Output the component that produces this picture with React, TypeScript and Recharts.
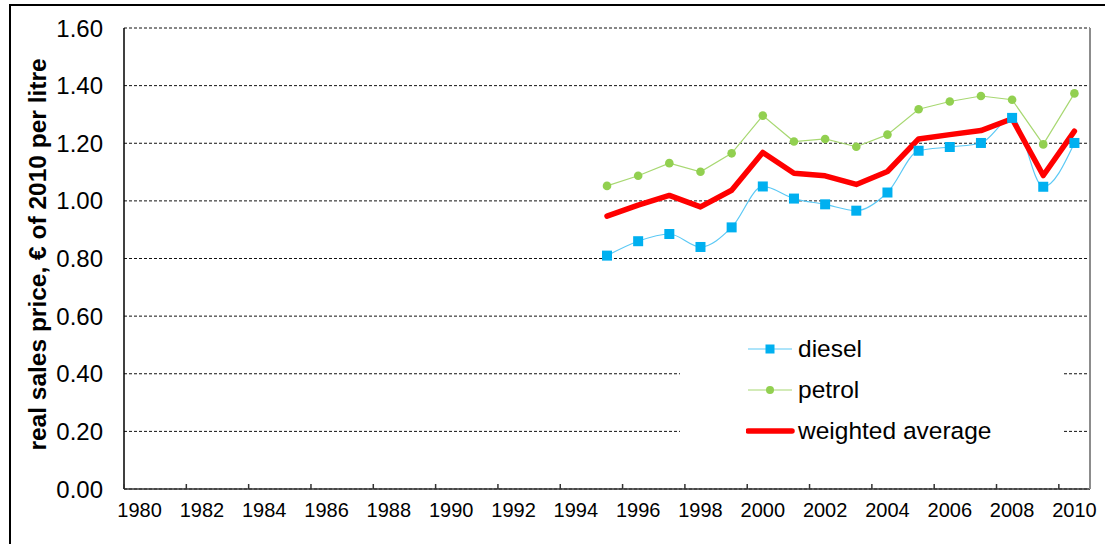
import React from "react";
import {
  LineChart,
  Line,
  XAxis,
  YAxis,
  CartesianGrid,
} from "recharts";

// years on the category axis (1980..2010), values only from 1995
const years = [
  1980, 1981, 1982, 1983, 1984, 1985, 1986, 1987, 1988, 1989, 1990,
  1991, 1992, 1993, 1994, 1995, 1996, 1997, 1998, 1999, 2000, 2001,
  2002, 2003, 2004, 2005, 2006, 2007, 2008, 2009, 2010,
];
const valueYears = [
  1995, 1996, 1997, 1998, 1999, 2000, 2001, 2002,
  2003, 2004, 2005, 2006, 2007, 2008, 2009, 2010,
];
const diesel = [
  0.81, 0.86, 0.885, 0.84, 0.908, 1.05, 1.008, 0.988,
  0.966, 1.029, 1.174, 1.187, 1.201, 1.288, 1.049, 1.201,
];
const petrol = [
  1.052, 1.087, 1.131, 1.101, 1.165, 1.296, 1.206, 1.215,
  1.188, 1.23, 1.318, 1.345, 1.364, 1.351, 1.196, 1.373,
];
const weighted = [
  0.947, 0.985, 1.019, 0.979, 1.037, 1.168, 1.096, 1.087,
  1.057, 1.102, 1.215, 1.23, 1.244, 1.285, 1.088, 1.242,
];
const yTicks = [0, 0.2, 0.4, 0.6, 0.8, 1.0, 1.2, 1.4, 1.6];

const data = years.map((year) => {
  const i = valueYears.indexOf(year);
  return {
    year,
    diesel: i >= 0 ? diesel[i] : null,
    petrol: i >= 0 ? petrol[i] : null,
    weighted: i >= 0 ? weighted[i] : null,
  };
});

const FONT = "'Liberation Sans', Arial, sans-serif";
const CHART_W = 1105;
const CHART_H = 544;
const MARGIN = { top: 28, right: 0, bottom: 0, left: 0 };
const Y_AXIS_W = 124;
const RIGHT_AXIS_W = 15;
const X_AXIS_H = 55;
// excel-style category bands: points sit in the middle of each year
const BAND = (CHART_W - Y_AXIS_W - RIGHT_AXIS_W) / years.length;

const DIESEL_COLOR = "#00B0F0";
const PETROL_COLOR = "#92D050";
const AVG_COLOR = "#FF0000";

function XTick(props: any) {
  const { x, y, payload } = props;
  const left = x - BAND / 2;
  return (
    <g>
      <line x1={left} y1={y} x2={left} y2={y - 5} stroke="#333" strokeWidth={1.5} />
      <text x={x} y={y + 28} textAnchor="middle" fontSize={20} fill="#000" fontFamily={FONT}>
        {payload.value}
      </text>
    </g>
  );
}

function SquareDot(props: any) {
  const { cx, cy, value } = props;
  if (value == null || cx == null || cy == null) return null;
  return <rect x={cx - 5} y={cy - 5} width={10} height={10} fill={DIESEL_COLOR} />;
}

function CircleDot(props: any) {
  const { cx, cy, value } = props;
  if (value == null || cx == null || cy == null) return null;
  return <circle cx={cx} cy={cy} r={4.3} fill={PETROL_COLOR} />;
}

function YLabel(props: any) {
  const { viewBox } = props;
  const cx = 37;
  const cy = viewBox.y + viewBox.height / 2 - 4;
  return (
    <text
      x={cx}
      y={cy}
      transform={`rotate(-90, ${cx}, ${cy})`}
      textAnchor="middle"
      dominantBaseline="central"
      fontSize={24.5}
      fontWeight="bold"
      fontFamily={FONT}
      fill="#000"
    >
      real sales price, € of 2010 per litre
    </text>
  );
}

const legendItems = [
  { key: "diesel", label: "diesel" },
  { key: "petrol", label: "petrol" },
  { key: "weighted", label: "weighted average" },
];

function LegendBox() {
  return (
    <div
      style={{
        position: "absolute",
        left: 680,
        top: 326,
        width: 382,
        height: 124,
        background: "#fff",
        paddingTop: 2,
        boxSizing: "border-box",
      }}
    >
      {legendItems.map((item) => (
        <div key={item.key} style={{ display: "flex", alignItems: "center", height: 41 }}>
          <svg width={50} height={20} style={{ marginLeft: 66, marginRight: 2 }}>
            {item.key === "diesel" && (
              <>
                <line x1={2} y1={10} x2={46} y2={10} stroke="#5CC9F5" strokeWidth={1.2} />
                <rect x={19.5} y={5.5} width={9} height={9} fill={DIESEL_COLOR} />
              </>
            )}
            {item.key === "petrol" && (
              <>
                <line x1={2} y1={10} x2={46} y2={10} stroke="#A8D872" strokeWidth={1.2} />
                <circle cx={24} cy={10} r={4} fill={PETROL_COLOR} />
              </>
            )}
            {item.key === "weighted" && (
              <line x1={2} y1={10} x2={46} y2={10} stroke={AVG_COLOR} strokeWidth={5.5} strokeLinecap="round" />
            )}
          </svg>
          <span style={{ fontSize: 24.5, fontFamily: FONT, color: "#000" }}>{item.label}</span>
        </div>
      ))}
    </div>
  );
}

export default function App() {
  return (
    <div
      style={{
        position: "absolute",
        left: 0,
        top: 0,
        width: CHART_W,
        height: CHART_H,
        overflow: "hidden",
        background: "#fff",
        fontFamily: FONT,
      }}
    >
      <div
        style={{
          position: "absolute",
          left: 9,
          top: 4,
          width: 1200,
          height: 700,
          border: "2px solid #000",
        }}
      />
      <div style={{ position: "absolute", left: 0, top: 0 }}>
        <LineChart width={CHART_W} height={CHART_H} data={data} margin={MARGIN}>
          <CartesianGrid
            vertical={false}
            stroke="#111"
            strokeDasharray="3 2"
            strokeWidth={1}
          />
          <XAxis
            dataKey="year"
            type="category"
            interval={1}
            height={X_AXIS_H}
            padding={{ left: BAND / 2, right: BAND / 2 }}
            tickSize={0}
            tickMargin={0}
            tickLine={false}
            axisLine={{ stroke: "#333", strokeWidth: 1.5 }}
            tick={<XTick />}
          />
          <YAxis
            width={Y_AXIS_W}
            domain={[0, 1.6]}
            ticks={yTicks}
            tickFormatter={(v: number) => v.toFixed(2)}
            tickLine={false}
            tickSize={0}
            tickMargin={21}
            axisLine={{ stroke: "#000", strokeWidth: 1.5 }}
            tick={{ fontSize: 24, fill: "#000", fontFamily: FONT }}
            label={{ content: <YLabel /> }}
          />
          <YAxis
            yAxisId="right"
            orientation="right"
            width={RIGHT_AXIS_W}
            domain={[0, 1.6]}
            tick={false}
            tickLine={false}
            axisLine={{ stroke: "#8c8c8c", strokeWidth: 2 }}
          />
          <Line
            type="monotone"
            dataKey="diesel"
            name="diesel"
            stroke="#5CC9F5"
            strokeWidth={1.2}
            dot={<SquareDot />}
            activeDot={false}
            isAnimationActive={false}
          />
          <Line
            type="linear"
            dataKey="petrol"
            name="petrol"
            stroke="#A8D872"
            strokeWidth={1.2}
            dot={<CircleDot />}
            activeDot={false}
            isAnimationActive={false}
          />
          <Line
            type="linear"
            dataKey="weighted"
            name="weighted average"
            stroke={AVG_COLOR}
            strokeWidth={5.5}
            strokeLinejoin="round"
            strokeLinecap="round"
            dot={false}
            activeDot={false}
            isAnimationActive={false}
          />
        </LineChart>
      </div>
      <LegendBox />
    </div>
  );
}
